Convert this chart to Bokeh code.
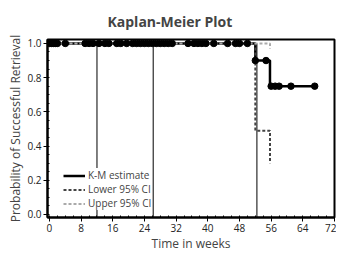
from bokeh.plotting import figure
from bokeh.models import Legend, LegendItem, FixedTicker, NumeralTickFormatter, Range1d
from bokeh.embed import file_html
from bokeh.resources import INLINE

# Kaplan-Meier estimate (step function)
km_time = [0, 52, 55.7, 67]
km_surv = [1.0, 0.9, 0.75, 0.75]

# Confidence limits
lower_time = [0, 52, 55.7]
lower_ci = [1.0, 0.49, 0.30]
upper_time = [0, 55.7]
upper_ci = [1.0, 0.97]

# Censoring marks
cens_time = [0, 0.5, 1, 1.5, 2, 4, 9, 10, 11, 12.5, 14, 15, 17, 18, 19.5, 21, 22,
             23, 24, 25, 26, 27, 28, 29, 30, 31, 35, 36.5, 37.5, 38.5, 39.5, 41.5,
             45, 47, 48, 50,
             52, 54.7,
             56, 57, 58, 61, 67]
cens_surv = [1.0] * 36 + [0.9] * 2 + [0.75] * 5

# Vertical reference lines
ref_time = [12, 26.2, 52.4]

x_ticks = [0, 8, 16, 24, 32, 40, 48, 56, 64, 72]
y_ticks = [0.0, 0.2, 0.4, 0.6, 0.8, 1.0]

FONT = "Open Sans"

p = figure(frame_width=287, frame_height=178, output_backend="svg", toolbar_location=None,
           x_range=Range1d(-0.5, 72), y_range=Range1d(-0.018, 1.023),
           min_border_left=47, min_border_right=2, min_border_top=27, min_border_bottom=30)

p.title.text = "Kaplan-Meier Plot"
p.title.align = "left"
p.title.offset = 60
p.title.text_font = FONT
p.title.text_font_style = "bold"
p.title.text_font_size = "14px"
p.title.standoff = 18

p.grid.visible = False
p.outline_line_color = "black"
p.outline_line_width = 2

p.segment(x0=ref_time, x1=ref_time, y0=[-0.05] * 3, y1=[1.0] * 3,
          line_color="black", line_width=1)

r_km = p.step(km_time, km_surv, mode="after", line_color="black", line_width=2.5)
r_lo = p.step(lower_time, lower_ci, mode="after", line_color="#444444",
              line_width=2, line_dash="3 2")
r_up = p.step(upper_time, upper_ci, mode="after", line_color="#aaaaaa",
              line_width=2, line_dash="3 2")
p.scatter(cens_time, cens_surv, size=6.5, color="black")

legend = Legend(items=[LegendItem(label="K-M estimate", renderers=[r_km]),
                       LegendItem(label="Lower 95% CI", renderers=[r_lo]),
                       LegendItem(label="Upper 95% CI", renderers=[r_up])],
                location=(16, 7), border_line_color=None,
                background_fill_color="white", background_fill_alpha=1,
                label_text_font=FONT, label_text_font_size="10px",
                label_height=9, glyph_height=9, glyph_width=22,
                spacing=-2, padding=2, margin=0, label_standoff=3)
p.add_layout(legend)

p.xaxis.ticker = FixedTicker(ticks=x_ticks, minor_ticks=list(range(0, 73, 2)))
p.yaxis.ticker = FixedTicker(ticks=y_ticks, minor_ticks=[i * 0.05 for i in range(21)])
p.yaxis.formatter = NumeralTickFormatter(format="0.0")
for ax in (p.xaxis, p.yaxis):
    ax.axis_line_width = 2
    ax.axis_line_color = "black"
    ax.major_tick_out = 4
    ax.major_tick_in = 0
    ax.minor_tick_out = 0
    ax.minor_tick_in = 2
    ax.major_label_text_font = FONT
    ax.major_label_text_font_size = "10px"
    ax.major_label_text_color = "#222222"
    ax.axis_label_text_font = FONT
    ax.axis_label_text_font_size = "12px"
    ax.axis_label_text_font_style = "normal"
    ax.major_label_standoff = 2
    ax.axis_label_standoff = 0

p.xaxis.axis_label = "Time in weeks"
p.yaxis.axis_label = "Probability of Successful Retrieval"

open("out.html", "w").write(file_html(p, INLINE))
